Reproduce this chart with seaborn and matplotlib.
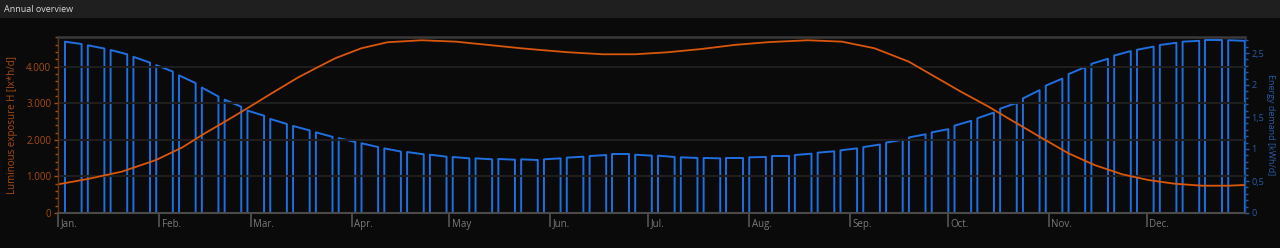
import numpy as np
import pandas as pd
import matplotlib
matplotlib.use("Agg")
import matplotlib.pyplot as plt
import matplotlib.transforms as mtransforms
from matplotlib.patches import Rectangle
from matplotlib.ticker import MultipleLocator
import seaborn as sns

# ---------------- data ----------------
months = ["Jan.", "Feb.", "Mar.", "Apr.", "May", "Jun.", "Jul.", "Aug.", "Sep.", "Oct.", "Nov.", "Dec."]
month_start_day = [0, 31, 59, 90, 120, 151, 181, 212, 243, 273, 304, 334]

lux_day = [0, 9, 19.5, 30, 38, 45, 52, 58, 65.5, 73.5, 79, 85, 93, 101, 111.5, 122, 132, 142,
           148, 156.5, 167, 177, 187, 197.5, 207.5, 218, 230, 240.5, 250.5, 261, 269, 277,
           285.5, 291.5, 302, 310, 318, 326.5, 334.5, 342.5, 351, 359, 364]
lux_value = [785, 929, 1130, 1449, 1790, 2179, 2542, 2862, 3272, 3700, 3956, 4229, 4502, 4666,
             4721, 4683, 4593, 4502, 4455, 4393, 4338, 4338, 4393, 4483, 4593, 4670, 4721, 4683,
             4502, 4137, 3726, 3316, 2906, 2589, 2042, 1632, 1312, 1058, 902, 801, 746, 746, 765]

demand_start = [2.677, 2.62, 2.547, 2.44, 2.31, 2.15, 1.96, 1.77, 1.60, 1.47, 1.36, 1.26, 1.17,
                1.09, 1.01, 0.953, 0.911, 0.875, 0.854, 0.844, 0.839, 0.839, 0.865, 0.89, 0.917,
                0.911, 0.896, 0.87, 0.86, 0.865, 0.87, 0.885, 0.906, 0.943, 0.979, 1.03, 1.10,
                1.18, 1.26, 1.365, 1.48, 1.63, 1.79, 1.99, 2.17, 2.33, 2.46, 2.55, 2.625, 2.677,
                2.70, 2.70]
demand_end = [2.64, 2.57, 2.48, 2.35, 2.21, 2.03, 1.82, 1.66, 1.52, 1.39, 1.29, 1.19, 1.11,
              1.03, 0.96, 0.917, 0.88, 0.854, 0.839, 0.833, 0.828, 0.854, 0.880, 0.906, 0.917,
              0.896, 0.875, 0.86, 0.854, 0.865, 0.875, 0.885, 0.927, 0.964, 1.01, 1.07, 1.145,
              1.23, 1.31, 1.44, 1.57, 1.72, 1.92, 2.10, 2.28, 2.41, 2.53, 2.60, 2.66, 2.69,
              2.70, 2.69]

left_ticks = [0, 1000, 2000, 3000, 4000]
left_tick_labels = ["0", "1.000", "2.000", "3.000", "4.000"]
right_ticks = [0, 0.5, 1, 1.5, 2, 2.5]
right_tick_labels = ["0", "0,5", "1", "1,5", "2", "2,5"]

# ---------------- style ----------------
sns.set_theme(style="dark")
plt.rcParams["font.family"] = ["Open Sans", "DejaVu Sans"]

BG = "#0a0a0a"
ORANGE = "#d9560b"
ORANGE_TXT = "#a84c12"
BLUE = "#1f6fe0"
BLUE_TXT = "#2a5aa6"
W, H = 1280, 248

fig = plt.figure(figsize=(12.8, 2.48), dpi=100, facecolor=BG)
fig.patches.append(Rectangle((0, 1 - 18 / H), 1, 18 / H, transform=fig.transFigure,
                             facecolor="#1f1f1f", edgecolor="none", zorder=0))
fig.text(4 / W, 1 - 9 / H, "Annual overview", color="#d8d8d8", fontsize=6.5,
         va="center", ha="left")

left_px, right_px, top_px, bottom_px = 58.3, 1245, 37, 213
ax = fig.add_axes([left_px / W, 1 - bottom_px / H, (right_px - left_px) / W, (bottom_px - top_px) / H])
ax2 = ax.twinx()

# bars as sloped-top outlines (one per week)
rows = []
for i, (s, e) in enumerate(zip(demand_start, demand_end)):
    l = 2.05 + 7 * i
    r = l + 5.1
    for k, (x, y) in enumerate([(l, 0), (l, s), (r, e), (r, 0)]):
        rows.append({"week": i, "order": k, "day": x, "demand": y})
bars = pd.DataFrame(rows)
sns.lineplot(data=bars, x="day", y="demand", units="week", estimator=None, sort=False,
             color=BLUE, lw=1.4, ax=ax2, solid_joinstyle="round")

lux = pd.DataFrame({"day": lux_day, "lux": lux_value})
sns.lineplot(data=lux, x="day", y="lux", color=ORANGE, lw=1.3, ax=ax,
             solid_joinstyle="round")

ax.set_zorder(ax2.get_zorder() + 1)
ax.patch.set_visible(False)
ax2.set_facecolor(BG)

ax.set_xlim(0, 364.2)
ax.set_ylim(0, 4810)
ax2.set_ylim(0, 2.75)

ax.set_xlabel("")
ax.set_ylabel("")
ax2.set_xlabel("")
ax2.set_ylabel("")

ax.yaxis.grid(True, color="#1f1f1f", lw=1.4)
ax.xaxis.grid(False)
ax2.grid(False)

ax.set_yticks(left_ticks)
ax.set_yticklabels(left_tick_labels)
ax.yaxis.set_minor_locator(MultipleLocator(200))
ax.tick_params(axis="y", which="major", colors=ORANGE_TXT, length=3, width=1, labelsize=7, pad=2,
               left=True)
ax.tick_params(axis="y", which="minor", color=ORANGE_TXT, length=2, width=1, left=True)

ax2.set_yticks(right_ticks)
ax2.set_yticklabels(right_tick_labels)
ax2.yaxis.set_minor_locator(MultipleLocator(0.1))
ax2.tick_params(axis="y", which="major", colors=BLUE_TXT, length=3, width=1, labelsize=6.5, pad=1.5,
                right=True)
ax2.tick_params(axis="y", which="minor", color=BLUE_TXT, length=2, width=1, right=True)

ax.set_xticks(month_start_day)
ax.set_xticklabels(months)
ax.tick_params(axis="x", which="major", color="#555555", labelcolor="#7a7a7a", length=10,
               width=1.2, labelsize=7, pad=-6, bottom=True, direction="out")
offset = mtransforms.ScaledTranslation(2.5 / 100, 0, fig.dpi_scale_trans)
for lbl in ax.get_xticklabels():
    lbl.set_ha("left")
    lbl.set_transform(lbl.get_transform() + offset)

for sp in ["top", "bottom", "left", "right"]:
    ax2.spines[sp].set_visible(False)
ax.spines["top"].set_color("#3a3a3a")
ax.spines["top"].set_linewidth(1.8)
ax.spines["bottom"].set_color("#4a4a4a")
ax.spines["bottom"].set_linewidth(1.5)
ax.spines["left"].set_color("#6a3510")
ax.spines["left"].set_linewidth(1)
ax.spines["right"].set_color("#1d4f9a")
ax.spines["right"].set_linewidth(1)

fig.text(13 / W, 1 - 125 / H, "Luminous exposure H [lx*h/d]", color=ORANGE_TXT, fontsize=7,
         rotation=90, va="center", ha="center")
fig.text(1270 / W, 1 - 125 / H, "Energy demand [kWh/d]", color=BLUE_TXT, fontsize=6.5,
         rotation=270, va="center", ha="center")

fig.savefig("out.png", dpi=100, facecolor=BG)
